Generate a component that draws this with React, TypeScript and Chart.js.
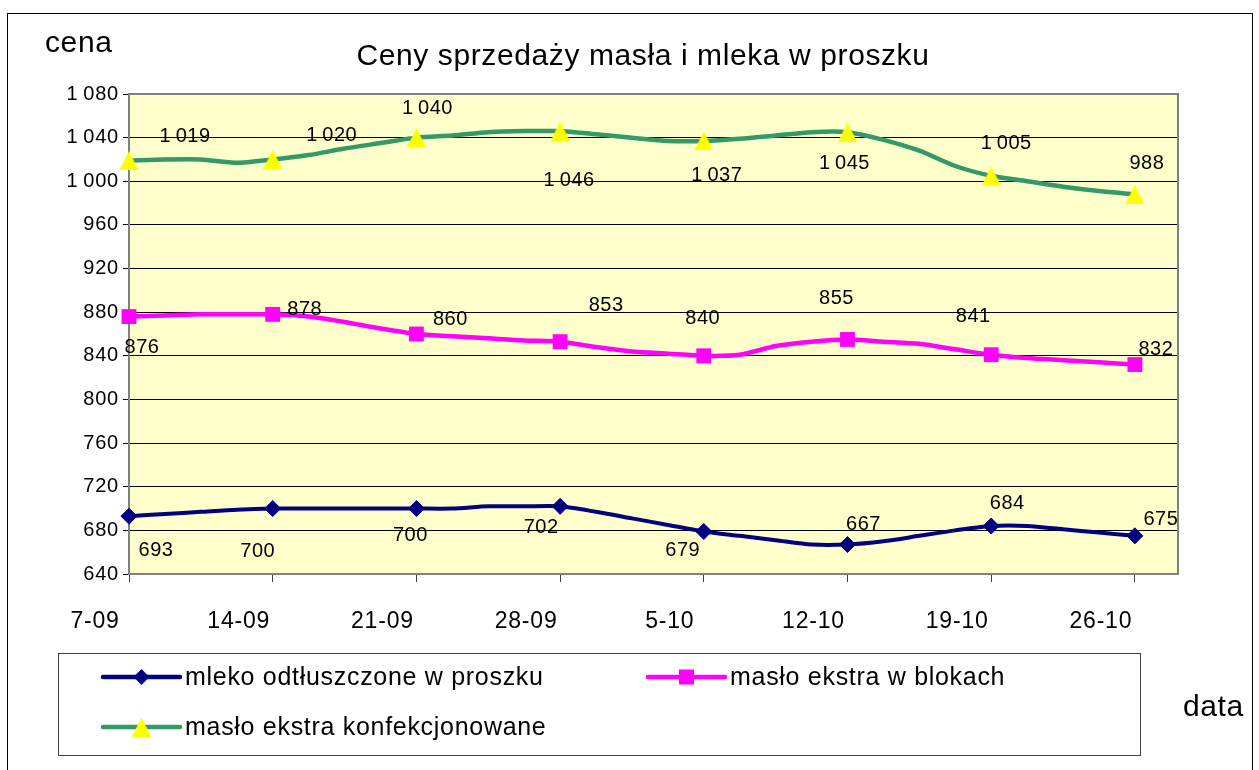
import React, { useEffect, useRef } from 'react';
import { Chart, registerables } from 'chart.js';

Chart.register(...registerables);

// ---- data ----
const weeks = ['7-09', '14-09', '21-09', '28-09', '5-10', '12-10', '19-10', '26-10'];
const pointsPerWeek = 4;

const mleko = [
  693, 695, 697, 699, 700, 700, 700, 700, 700, 700, 702, 702, 702, 697, 691, 685,
  679, 675, 671, 667, 667, 670, 675, 680, 684, 684, 681, 678, 675,
];
const masloBloki = [
  876, 877, 878, 878, 878, 876, 871, 865, 860, 858, 856, 854, 853, 848, 844, 842,
  840, 841, 849, 853, 855, 853, 851, 846, 841, 838, 836, 834, 832,
];
const masloKonf = [
  1019, 1020, 1020, 1017, 1020, 1024, 1030, 1035, 1040, 1042, 1045, 1046, 1046, 1043, 1040, 1037,
  1037, 1039, 1042, 1045, 1045, 1038, 1028, 1014, 1005, 1000, 995, 991, 988,
];

const seriesNames = [
  'mleko odtłuszczone w proszku',
  'masło ekstra w blokach',
  'masło ekstra konfekcjonowane',
];

const yMin = 640;
const yMax = 1080;
const yStep = 40;
const xMax = 29.2;

// ---- style ----
const FONT = '"Liberation Sans", Arial, sans-serif';
const colors = { mleko: '#000080', bloki: '#FF00FF', konf: '#339966', tri: '#FFFF00' };

// label offsets (px) relative to each weekly point
const labelOffsets: number[][][] = [
  [[27, 34], [-15, 43], [-6, 27], [-19, 21], [-21, 19], [16, -20], [16, -23], [26, -16]],
  [[13, 31], [32, -5], [34, -15], [46, -36], [-1, -37], [-11, -41], [-18, -38], [21, -15]],
  [[56, -24], [59, -24], [11, -29], [9, 49], [13, 35], [-3, 31], [15, -32], [12, -31]],
];

const fmt = (v: number) =>
  v >= 1000 ? `${Math.floor(v / 1000)}\u2009${String(v % 1000).padStart(3, '0')}` : String(v);

function makeTriangle(): HTMLCanvasElement {
  const c = document.createElement('canvas');
  c.width = 19;
  c.height = 19;
  const g = c.getContext('2d')!;
  g.fillStyle = colors.tri;
  g.beginPath();
  g.moveTo(9.5, 0);
  g.lineTo(19, 19);
  g.lineTo(0, 19);
  g.closePath();
  g.fill();
  return c;
}

export default function App() {
  const ref = useRef<HTMLCanvasElement>(null);

  useEffect(() => {
    if (!ref.current) return;
    const tri = makeTriangle();
    const markerR = (r: number) => (ctx: any) => (ctx.dataIndex % pointsPerWeek === 0 ? r : 0);
    const toPts = (arr: number[]) => arr.map((y, i) => ({ x: i, y }));

    const bgPlugin = {
      id: 'bg',
      beforeDraw(chart: any) {
        const { ctx, chartArea: a } = chart;
        ctx.save();
        ctx.fillStyle = '#FFFFFF';
        ctx.fillRect(0, 0, chart.width, chart.height);
        ctx.fillStyle = '#FFFFCC';
        ctx.fillRect(a.left, a.top, a.right - a.left, a.bottom - a.top);
        ctx.restore();
        // slightly wider lettering for axis tick labels
        ctx.letterSpacing = '0.8px';
      },
      beforeDatasetsDraw(chart: any) {
        const { ctx, chartArea: a } = chart;
        ctx.save();
        ctx.strokeStyle = '#808080';
        ctx.lineWidth = 2;
        ctx.beginPath();
        ctx.moveTo(a.left, a.top);
        ctx.lineTo(a.right, a.top);
        ctx.lineTo(a.right, a.bottom);
        ctx.stroke();
        ctx.restore();
      },
    };

    const labelPlugin = {
      id: 'vlabels',
      afterDatasetsDraw(chart: any) {
        const { ctx } = chart;
        ctx.save();
        ctx.letterSpacing = '0.5px';
        ctx.font = `20px ${FONT}`;
        ctx.fillStyle = '#000';
        ctx.textAlign = 'center';
        ctx.textBaseline = 'middle';
        chart.data.datasets.forEach((ds: any, di: number) => {
          const meta = chart.getDatasetMeta(di);
          meta.data.forEach((pt: any, i: number) => {
            if (i % pointsPerWeek !== 0) return;
            const k = i / pointsPerWeek;
            const off = labelOffsets[di][k] || [0, -20];
            ctx.fillText(fmt(ds.data[i].y), pt.x + off[0], pt.y + off[1]);
          });
        });
        ctx.restore();
      },
    };

    const drawDiamond = (ctx: any, x: number, y: number, r: number, c: string) => {
      ctx.fillStyle = c;
      ctx.beginPath();
      ctx.moveTo(x - r, y);
      ctx.lineTo(x, y - r);
      ctx.lineTo(x + r, y);
      ctx.lineTo(x, y + r);
      ctx.closePath();
      ctx.fill();
    };

    const textPlugin = {
      id: 'texts',
      afterDraw(chart: any) {
        const { ctx } = chart;
        ctx.save();
        ctx.fillStyle = '#000';
        ctx.textBaseline = 'alphabetic';
        ctx.letterSpacing = '0.6px';
        ctx.font = `30px ${FONT}`;
        ctx.textAlign = 'left';
        ctx.fillText('cena', 45, 52);
        ctx.textAlign = 'center';
        ctx.fillText('Ceny sprzedaży masła i mleka w proszku', 643, 65);
        ctx.textAlign = 'left';
        ctx.fillText('data', 1183, 716);

        // legend box
        ctx.strokeStyle = '#404040';
        ctx.lineWidth = 1;
        ctx.strokeRect(58.5, 653.5, 1082, 102);

        const items = [
          { x: 103, y: 677, color: colors.mleko, kind: 'diamond', text: seriesNames[0] },
          { x: 648, y: 677, color: colors.bloki, kind: 'square', text: seriesNames[1] },
          { x: 103, y: 727, color: colors.konf, kind: 'tri', text: seriesNames[2] },
        ];
        items.forEach((it) => {
          ctx.strokeStyle = it.color;
          ctx.lineWidth = 4.5;
          ctx.lineCap = 'round';
          ctx.beginPath();
          ctx.moveTo(it.x, it.y);
          ctx.lineTo(it.x + 77, it.y);
          ctx.stroke();
          const cx = it.x + 38.5;
          if (it.kind === 'diamond') drawDiamond(ctx, cx, it.y, 8, it.color);
          else if (it.kind === 'square') {
            ctx.fillStyle = it.color;
            ctx.fillRect(cx - 7.5, it.y - 7.5, 15, 15);
          } else ctx.drawImage(tri, cx - 9.5, it.y - 9.5);
          ctx.fillStyle = '#000';
          ctx.font = `25px ${FONT}`;
          ctx.letterSpacing = '0.7px';
          ctx.textAlign = 'left';
          ctx.textBaseline = 'middle';
          ctx.fillText(it.text, it.x + 82, it.y + 1);
        });

        // outer frame
        ctx.strokeStyle = '#000';
        ctx.lineWidth = 1;
        ctx.strokeRect(7.5, 13.5, 1245, 770);
        ctx.restore();
      },
    };

    const chart = new Chart(ref.current, {
      type: 'line',
      data: {
        datasets: [
          {
            label: seriesNames[0],
            data: toPts(mleko),
            borderColor: colors.mleko,
            backgroundColor: colors.mleko,
            borderWidth: 4,
            pointStyle: 'rectRot',
            pointRadius: markerR(8),
            pointBorderWidth: 1,
            pointBorderColor: colors.mleko,
            pointBackgroundColor: colors.mleko,
            tension: 0.25,
            clip: false,
          },
          {
            label: seriesNames[1],
            data: toPts(masloBloki),
            borderColor: colors.bloki,
            backgroundColor: colors.bloki,
            borderWidth: 4.5,
            pointStyle: 'rect',
            pointRadius: markerR(10.5),
            pointBorderWidth: 0,
            pointBackgroundColor: colors.bloki,
            tension: 0.25,
            clip: false,
          },
          {
            label: seriesNames[2],
            data: toPts(masloKonf),
            borderColor: colors.konf,
            backgroundColor: colors.tri,
            borderWidth: 4.5,
            pointStyle: tri,
            pointRadius: markerR(10),
            tension: 0.25,
            clip: false,
          },
        ] as any,
      },
      options: {
        animation: false,
        responsive: false,
        events: [],
        layout: { padding: { top: 94, right: 81, left: 0, bottom: 0 } },
        plugins: { legend: { display: false }, title: { display: false }, tooltip: { enabled: false } },
        scales: {
          x: {
            type: 'linear',
            min: 0,
            max: xMax,
            afterFit: (s: any) => {
              s.height = 196;
            },
            afterBuildTicks: (s: any) => {
              s.ticks = weeks.map((_, k) => ({ value: k * pointsPerWeek }));
            },
            grid: {
              drawOnChartArea: false,
              drawTicks: true,
              tickLength: 8,
              color: '#404040',
              lineWidth: 1,
            },
            border: { display: true, color: '#808080', width: 2 },
            ticks: {
              autoSkip: false,
              maxRotation: 0,
              minRotation: 0,
              padding: 26,
              labelOffset: -34,
              color: '#000',
              font: { family: FONT, size: 23 },
              callback: (v: any) => weeks[Math.round(Number(v) / pointsPerWeek)] ?? '',
            },
          },
          y: {
            min: yMin,
            max: yMax,
            afterFit: (s: any) => {
              s.width = 129;
            },
            grid: { color: '#000', lineWidth: 1, tickLength: 6, tickColor: '#000' },
            border: { display: true, color: '#808080', width: 2 },
            ticks: {
              stepSize: yStep,
              padding: 4,
              color: '#000',
              font: { family: FONT, size: 20 },
              callback: (v: any) => fmt(Number(v)),
            },
          },
        },
      } as any,
      plugins: [bgPlugin, labelPlugin, textPlugin],
    });
    return () => chart.destroy();
  }, []);

  return (
    <div style={{ position: 'fixed', left: 0, top: 0, width: 1259, height: 770, background: '#fff' }}>
      <canvas ref={ref} width={1259} height={770} style={{ display: 'block' }} />
    </div>
  );
}
